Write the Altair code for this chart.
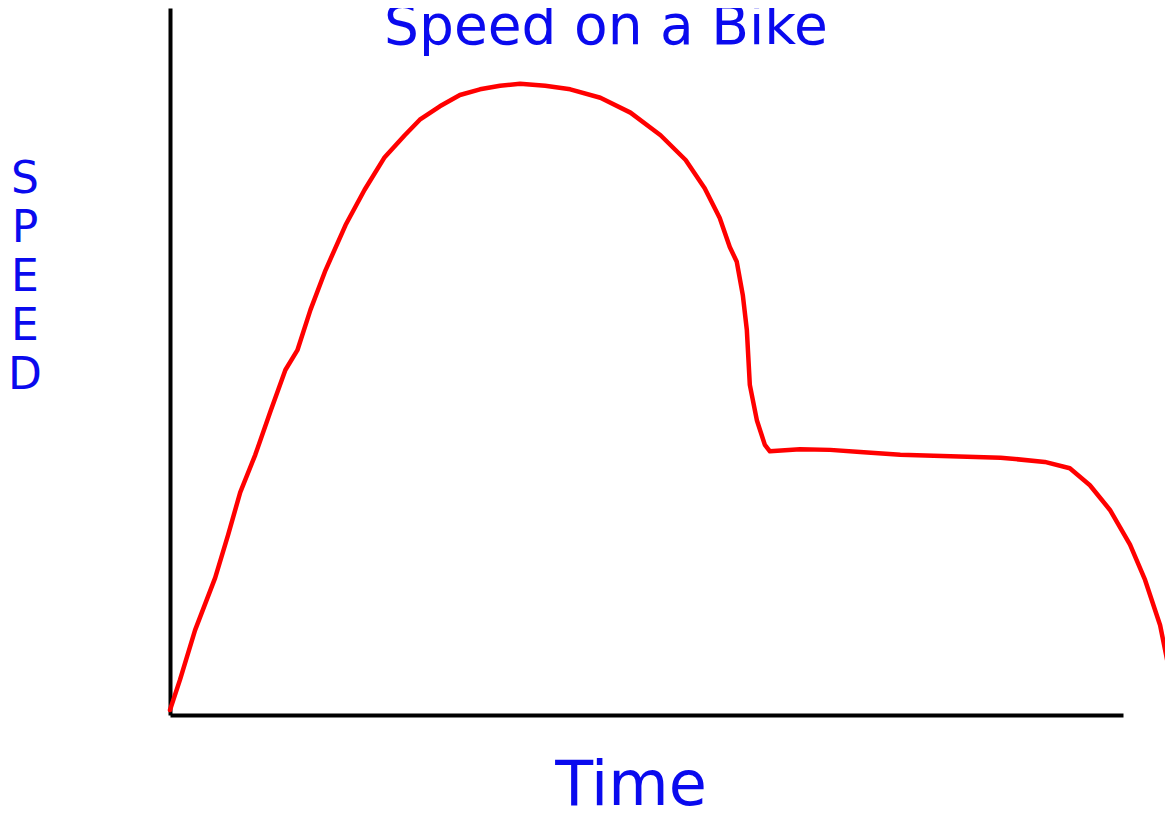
import altair as alt
import pandas as pd

# Red speed curve (time 0-95 spans the x-axis, speed 0-100 spans the y-axis)
time = [0, 1.0, 2.5, 4.5, 5.8, 7.0, 8.5, 10.0, 11.5, 12.7, 14.0, 15.5, 17.5, 19.4, 21.4,
        23.4, 24.9, 26.9, 28.9, 30.9, 32.9, 34.9, 37.4, 39.9, 42.9, 45.9, 48.9, 51.4,
        53.3, 54.8, 55.8, 56.5, 57.1, 57.5, 57.8, 58.5, 59.3, 59.8, 62.8, 65.8, 68.8,
        72.8, 77.8, 82.8, 87.2, 89.7, 91.7, 93.7, 95.7, 97.2, 98.7, 99.5, 100.0]
speed = [0.7, 5.0, 12.0, 19.4, 25.5, 31.5, 36.8, 42.9, 48.8, 51.6, 57.3, 62.9, 69.3, 74.3,
         78.9, 82.0, 84.2, 86.1, 87.7, 88.5, 89.0, 89.3, 89.0, 88.5, 87.3, 85.2, 82.0,
         78.5, 74.5, 70.3, 66.2, 64.1, 59.4, 54.5, 46.7, 41.7, 38.2, 37.3, 37.6, 37.5,
         37.2, 36.8, 36.6, 36.4, 35.8, 34.9, 32.5, 29.0, 24.1, 19.1, 12.7, 7.1, 0.7]

title_text = ["Speed on a Bike"]
x_label = ["Time"]
y_label = ["S\nP\nE\nE\nD"]

BLUE = "#0a0aee"
FONT = "DejaVu Sans"

df = pd.DataFrame({"time": time, "speed": speed})

xs = alt.Scale(domain=[0, 95], nice=False, zero=False)
ys = alt.Scale(domain=[0, 100], nice=False, zero=False)

axis_x = alt.Axis(domain=True, domainColor="black", domainWidth=4, ticks=False,
                  labels=False, grid=False, title=None)
axis_y = alt.Axis(domain=True, domainColor="black", domainWidth=4, ticks=False,
                  labels=False, grid=False, title=None)

curve = alt.Chart(df).mark_line(color="#ff0000", strokeWidth=4.5, clip=False,
                                strokeJoin="round", strokeCap="round").encode(
    x=alt.X("time:Q", scale=xs, axis=axis_x),
    y=alt.Y("speed:Q", scale=ys, axis=axis_y),
)

title = alt.Chart(pd.DataFrame({"t": title_text})).mark_text(
    font=FONT, fontSize=55, color=BLUE, align="center", baseline="alphabetic",
).encode(text="t:N", x=alt.value(436), y=alt.value(36))

xlab = alt.Chart(pd.DataFrame({"t": x_label})).mark_text(
    font=FONT, fontSize=62, color=BLUE, align="center", baseline="alphabetic",
).encode(text="t:N", x=alt.value(461), y=alt.value(797))

ylab = alt.Chart(pd.DataFrame({"t": y_label})).mark_text(
    font=FONT, fontSize=44, color=BLUE, align="center", baseline="top",
    lineBreak="\n", lineHeight=49,
).encode(text="t:N", x=alt.value(-145), y=alt.value(150))

chart = alt.layer(curve, title, xlab, ylab).properties(
    width=953, height=707,
    background="white",
    autosize=alt.AutoSizeParams(type="none"),
    padding={"left": 162, "top": 0, "right": 42, "bottom": 100},
).configure_view(stroke=None, strokeWidth=0)

chart.save("out.html", embed_options={"renderer": "svg", "actions": False})
